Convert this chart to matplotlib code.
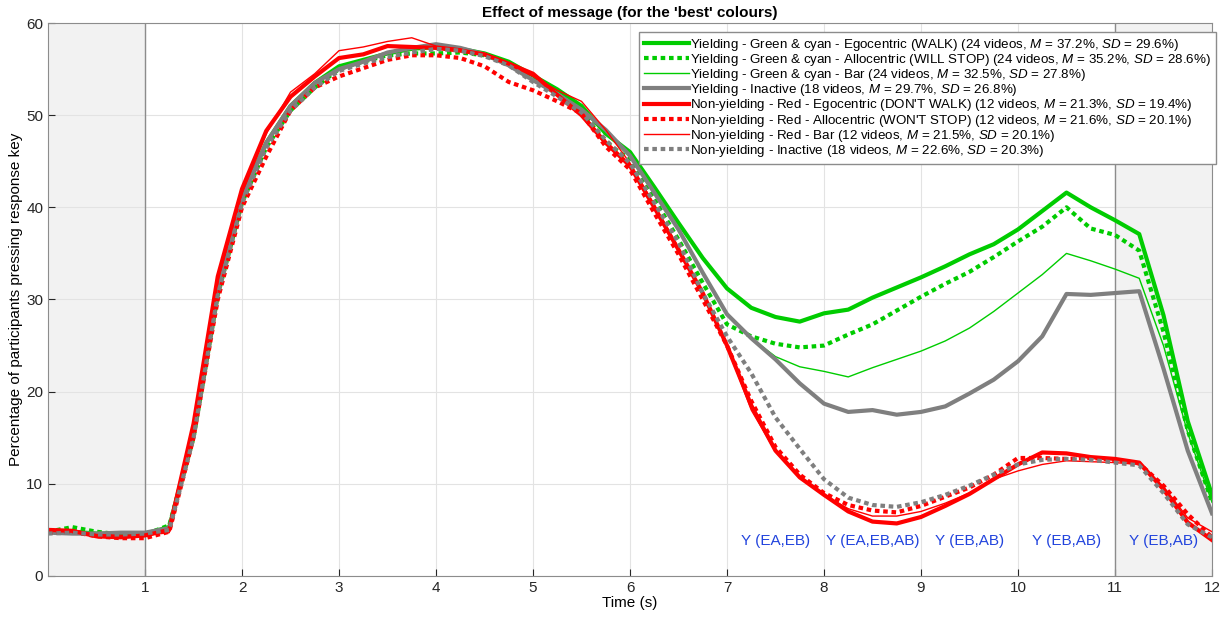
"""Effect of message on the percentage of participants pressing the response key
(for the 'best' colours)."""
import numpy as np
import matplotlib
matplotlib.use('Agg')
import matplotlib.pyplot as plt

plt.rcParams['font.family'] = ['Liberation Sans', 'DejaVu Sans']
plt.rcParams['mathtext.fontset'] = 'custom'
plt.rcParams['mathtext.rm'] = 'Liberation Sans'
plt.rcParams['mathtext.it'] = 'Liberation Sans:italic'

#
# Data, time in seconds, 0.25 s steps
#
time = np.arange(0, 12.01, 0.25)

yield_ego = [4.8, 4.8, 4.6, 4.6, 4.6, 5.3, 15.5, 31.0, 41.0, 47.0, 51.0, 53.5,
             55.3, 56.0, 56.7, 57.2, 57.4, 57.2, 56.7, 55.8, 54.3, 52.8, 51.0,
             48.0, 46.0, 42.2, 38.3, 34.5, 31.2, 29.1, 28.1, 27.6, 28.5, 28.9,
             30.2, 31.3, 32.4, 33.6, 34.9, 36.0, 37.6, 39.6, 41.6, 40.0, 38.6,
             37.1, 28.3, 16.8, 8.8]
yield_allo = [4.8, 5.3, 4.8, 4.5, 4.5, 5.5, 15.0, 30.5, 40.5, 46.5, 50.5, 53.0,
              55.0, 55.8, 56.5, 56.7, 56.7, 56.8, 56.5, 55.6, 54.0, 52.3, 50.5,
              47.0, 45.2, 40.9, 36.5, 31.8, 27.3, 26.0, 25.2, 24.8, 25.0, 26.2,
              27.3, 28.8, 30.3, 31.7, 33.0, 34.6, 36.3, 37.9, 40.0, 37.7, 37.0,
              35.3, 26.5, 15.8, 8.0]
yield_bar = [4.8, 4.7, 4.6, 4.5, 4.6, 5.2, 15.5, 31.0, 41.0, 47.0, 51.0, 53.5,
             55.3, 56.0, 56.8, 57.2, 57.5, 57.0, 56.6, 55.8, 54.4, 52.8, 50.8,
             48.0, 45.5, 41.5, 37.5, 32.8, 28.3, 25.8, 23.8, 22.7, 22.2, 21.6,
             22.6, 23.5, 24.4, 25.5, 26.9, 28.7, 30.7, 32.7, 35.0, 34.2, 33.3,
             32.3, 25.0, 15.5, 8.0]
yield_inactive = [4.7, 4.6, 4.6, 4.7, 4.7, 5.2, 15.5, 31.0, 41.0, 47.0, 51.0,
                  53.5, 55.0, 55.8, 56.8, 57.3, 57.7, 57.3, 56.6, 55.4, 53.8,
                  52.3, 50.6, 48.4, 45.6, 41.6, 37.6, 32.9, 28.4, 25.8, 23.5,
                  20.9, 18.7, 17.8, 18.0, 17.5, 17.8, 18.4, 19.8, 21.3, 23.3,
                  26.0, 30.6, 30.5, 30.7, 30.9, 22.5, 13.6, 6.8]
nonyield_ego = [5.0, 4.9, 4.3, 4.2, 4.4, 5.0, 16.5, 32.5, 42.0, 48.3, 52.0, 54.2,
                56.2, 56.6, 57.5, 57.4, 57.3, 57.0, 56.6, 55.6, 54.5, 52.2, 50.0,
                47.0, 44.5, 40.0, 35.4, 30.7, 25.0, 18.5, 13.6, 10.7, 8.8, 7.0,
                5.9, 5.7, 6.4, 7.6, 8.9, 10.5, 12.1, 13.4, 13.3, 12.9, 12.7,
                12.3, 9.4, 5.8, 3.9]
nonyield_allo = [4.7, 4.8, 4.3, 4.1, 4.1, 4.8, 15.0, 30.0, 40.0, 45.5, 50.5,
                 53.0, 54.2, 55.1, 56.0, 56.5, 56.5, 56.2, 55.3, 53.6, 52.7,
                 51.5, 50.2, 46.6, 44.1, 39.4, 34.9, 30.0, 25.0, 19.0, 14.0,
                 11.0, 9.0, 7.7, 7.1, 6.9, 7.6, 8.6, 9.6, 11.0, 12.8, 12.8,
                 12.7, 12.8, 12.6, 12.2, 9.8, 6.7, 4.2]
nonyield_bar = [4.9, 5.0, 4.5, 4.4, 4.4, 4.7, 16.0, 32.0, 41.5, 48.0, 52.5, 54.5,
                57.0, 57.4, 58.0, 58.4, 57.5, 57.2, 56.5, 55.5, 54.2, 52.7, 51.5,
                48.4, 44.8, 40.3, 35.6, 30.6, 25.0, 18.0, 13.5, 10.8, 8.8, 7.3,
                6.5, 6.5, 7.0, 7.9, 9.0, 10.5, 11.4, 12.1, 12.5, 12.4, 12.3,
                12.1, 9.7, 6.3, 4.8]
nonyield_inactive = [4.6, 4.7, 4.5, 4.5, 4.6, 5.0, 15.0, 30.5, 40.5, 46.5, 50.5,
                     53.0, 54.8, 55.6, 56.3, 56.8, 57.2, 57.0, 56.4, 55.4, 53.6,
                     52.0, 50.3, 47.3, 44.8, 40.5, 36.2, 30.7, 26.0, 22.0, 17.2,
                     13.8, 10.5, 8.5, 7.7, 7.5, 8.0, 8.8, 9.8, 11.0, 12.1, 12.6,
                     12.7, 12.6, 12.3, 12.0, 9.0, 5.6, 4.2]

labels = [
    "Yielding - Green & cyan - Egocentric (WALK) (24 videos, $M$ = 37.2%, $SD$ = 29.6%)",
    "Yielding - Green & cyan - Allocentric (WILL STOP) (24 videos, $M$ = 35.2%, $SD$ = 28.6%)",
    "Yielding - Green & cyan - Bar (24 videos, $M$ = 32.5%, $SD$ = 27.8%)",
    "Yielding - Inactive (18 videos, $M$ = 29.7%, $SD$ = 26.8%)",
    "Non-yielding - Red - Egocentric (DON'T WALK) (12 videos, $M$ = 21.3%, $SD$ = 19.4%)",
    "Non-yielding - Red - Allocentric (WON'T STOP) (12 videos, $M$ = 21.6%, $SD$ = 20.1%)",
    "Non-yielding - Red - Bar (12 videos, $M$ = 21.5%, $SD$ = 20.1%)",
    "Non-yielding - Inactive (18 videos, $M$ = 22.6%, $SD$ = 20.3%)",
]

annot_x = [7.5, 8.5, 9.5, 10.5, 11.5]
annot_text = ['Y (EA,EB)', 'Y (EA,EB,AB)', 'Y (EB,AB)', 'Y (EB,AB)', 'Y (EB,AB)']

green = '#00cc00'
red = '#ff0000'
grey = '#7f7f7f'
dots = (0, (1.1, 0.9))

series = [
    (yield_ego, green, '-', 3.0),
    (yield_allo, green, dots, 3.0),
    (yield_bar, green, '-', 1.0),
    (yield_inactive, grey, '-', 3.0),
    (nonyield_ego, red, '-', 3.0),
    (nonyield_allo, red, dots, 3.0),
    (nonyield_bar, red, '-', 1.0),
    (nonyield_inactive, grey, dots, 3.0),
]

#
# Plot
#
fig = plt.figure(figsize=(12.22, 6.17), dpi=100)
ax = fig.add_axes([0.0393, 0.0665, 0.9525, 0.8962])

ax.axvspan(0, 1, color='#f2f2f2', zorder=0.2, lw=0)
ax.axvspan(11, 12, color='#f2f2f2', zorder=0.2, lw=0)
ax.axvline(1, color='#8c8c8c', lw=1, zorder=0.6)
ax.axvline(11, color='#8c8c8c', lw=1, zorder=0.6)

for (vals, col, ls, lw), lab in zip(series, labels):
    ax.plot(time, vals, color=col, linestyle=ls, lw=lw, label=lab)

for x, txt in zip(annot_x, annot_text):
    ax.text(x, 3.8, txt, color='#2244dd', fontsize=11, ha='center', va='center')

ax.set_xlim(0, 12)
ax.set_ylim(0, 60)
ax.set_xticks(range(1, 13))
ax.set_yticks(range(0, 61, 10))
ax.set_axisbelow(True)
ax.grid(True, color='#e3e3e3', lw=0.8)
ax.tick_params(direction='in', length=5, colors='#262626', labelsize=11,
               top=False, right=False)
for sp in ax.spines.values():
    sp.set_color('#8c8c8c')

ax.set_xlabel('Time (s)', fontsize=11, labelpad=1)
ax.set_ylabel('Percentage of participants pressing response key', fontsize=11,
              labelpad=2)
ax.set_title("Effect of message (for the 'best' colours)", fontsize=11,
             fontweight='bold', pad=4)

leg = ax.legend(loc='upper right', bbox_to_anchor=(1.0034, 0.984),
                borderaxespad=0, fontsize=9.6, handlelength=3.4,
                handletextpad=0.1, labelspacing=-0.06, borderpad=0.35,
                fancybox=False, framealpha=1)
leg.get_frame().set_edgecolor('#8c8c8c')
leg.get_frame().set_linewidth(1)

plt.savefig('out.png', dpi=100)
